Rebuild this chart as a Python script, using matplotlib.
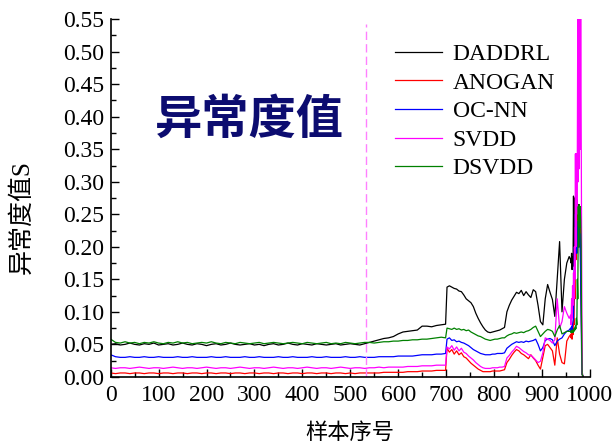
import numpy as np
import matplotlib.pyplot as plt
from matplotlib.ticker import MultipleLocator, FormatStrFormatter

plt.rcParams['font.family'] = ['Liberation Serif', 'Noto Sans CJK SC']
plt.rcParams['axes.unicode_minus'] = False

# 样本序号：平稳段每10个取一点，异常段逐渐加密
idx = np.r_[0:700:10, 699, 702:960:5, 960:987:1]

daddrl = [
    0.050, 0.051, 0.049, 0.050, 0.052, 0.050, 0.049, 0.051, 0.050, 0.052,
    0.049, 0.050, 0.051, 0.049, 0.050, 0.052, 0.050, 0.049, 0.051, 0.050,
    0.048, 0.050, 0.051, 0.049, 0.050, 0.052, 0.050, 0.049, 0.050, 0.051,
    0.049, 0.050, 0.048, 0.050, 0.051, 0.049, 0.050, 0.052, 0.050, 0.049,
    0.051, 0.050, 0.049, 0.051, 0.050, 0.049, 0.050, 0.051, 0.049, 0.050,
    0.051, 0.050, 0.049, 0.051, 0.053, 0.055, 0.057, 0.059, 0.060, 0.062,
    0.066, 0.069, 0.070, 0.071, 0.072, 0.078, 0.078, 0.077, 0.079, 0.080,
    0.081,
    0.138, 0.140, 0.138, 0.136, 0.135, 0.132, 0.131, 0.126, 0.120, 0.117,
    0.114, 0.108, 0.098, 0.090, 0.083, 0.077, 0.072, 0.069, 0.068, 0.069,
    0.070, 0.071, 0.072, 0.074, 0.076, 0.100, 0.110, 0.118, 0.124, 0.130,
    0.128, 0.133, 0.125, 0.131, 0.126, 0.122, 0.134, 0.131, 0.110, 0.085,
    0.080, 0.120, 0.142, 0.130, 0.119, 0.093, 0.150, 0.208, 0.100, 0.150,
    0.175, 0.185,
    0.180, 0.175, 0.190, 0.165, 0.185, 0.170, 0.278, 0.180, 0.275, 0.200,
    0.250, 0.190, 0.260, 0.220, 0.272, 0.230, 0.265, 0.220, 0.250, 0.200,
    0.230, 0.150, 0.120, 0.060, 0.010, 0.002, 0.001,
]

anogan = [
    0.006, 0.005, 0.006, 0.006, 0.005, 0.006, 0.006, 0.005, 0.006, 0.006,
    0.005, 0.006, 0.006, 0.005, 0.006, 0.006, 0.005, 0.006, 0.006, 0.005,
    0.006, 0.006, 0.005, 0.006, 0.006, 0.005, 0.006, 0.006, 0.005, 0.006,
    0.006, 0.005, 0.006, 0.006, 0.005, 0.006, 0.006, 0.005, 0.006, 0.006,
    0.005, 0.006, 0.006, 0.005, 0.006, 0.006, 0.005, 0.006, 0.006, 0.005,
    0.006, 0.005, 0.006, 0.006, 0.006, 0.006, 0.006, 0.007, 0.007, 0.007,
    0.007, 0.007, 0.008, 0.008, 0.008, 0.009, 0.009, 0.009, 0.010, 0.010,
    0.010,
    0.044, 0.038, 0.042, 0.035, 0.040, 0.034, 0.037, 0.031, 0.029, 0.025,
    0.021, 0.018, 0.015, 0.012, 0.010, 0.008, 0.008, 0.008, 0.008, 0.009,
    0.009, 0.009, 0.009, 0.010, 0.011, 0.022, 0.027, 0.033, 0.038, 0.042,
    0.040, 0.036, 0.034, 0.031, 0.028, 0.034, 0.029, 0.025, 0.018, 0.012,
    0.030, 0.048, 0.050, 0.045, 0.040, 0.018, 0.060, 0.035, 0.022, 0.020,
    0.055, 0.062,
    0.065, 0.060, 0.070, 0.058, 0.075, 0.065, 0.090, 0.080, 0.150, 0.120,
    0.230, 0.180, 0.250, 0.200, 0.240, 0.210, 0.260, 0.220, 0.250, 0.210,
    0.230, 0.180, 0.150, 0.050, 0.004, 0.002, 0.001,
]

ocnn = [
    0.034, 0.031, 0.030, 0.030, 0.031, 0.030, 0.030, 0.031, 0.030, 0.030,
    0.031, 0.030, 0.030, 0.030, 0.031, 0.030, 0.030, 0.031, 0.030, 0.030,
    0.030, 0.031, 0.030, 0.030, 0.031, 0.030, 0.030, 0.030, 0.031, 0.030,
    0.030, 0.031, 0.030, 0.030, 0.030, 0.031, 0.030, 0.030, 0.031, 0.030,
    0.030, 0.030, 0.031, 0.030, 0.030, 0.031, 0.030, 0.030, 0.030, 0.031,
    0.030, 0.030, 0.031, 0.030, 0.030, 0.030, 0.031, 0.031, 0.031, 0.031,
    0.032, 0.032, 0.032, 0.032, 0.033, 0.034, 0.034, 0.034, 0.035, 0.035,
    0.036,
    0.058, 0.060, 0.056, 0.057, 0.054, 0.055, 0.053, 0.052, 0.050, 0.048,
    0.045, 0.042, 0.040, 0.038, 0.036, 0.035, 0.034, 0.034, 0.034, 0.035,
    0.035, 0.036, 0.036, 0.036, 0.037, 0.044, 0.047, 0.050, 0.052, 0.054,
    0.053, 0.054, 0.053, 0.055, 0.054, 0.055, 0.056, 0.058, 0.050, 0.040,
    0.045, 0.056, 0.058, 0.059, 0.057, 0.048, 0.055, 0.058, 0.060, 0.066,
    0.070, 0.072,
    0.075, 0.070, 0.078, 0.072, 0.080, 0.085, 0.090, 0.150, 0.200, 0.180,
    0.250, 0.210, 0.240, 0.190, 0.230, 0.200, 0.240, 0.210, 0.230, 0.200,
    0.220, 0.150, 0.100, 0.030, 0.004, 0.002, 0.001,
]

svdd = [
    0.014, 0.013, 0.014, 0.014, 0.013, 0.014, 0.015, 0.014, 0.013, 0.014,
    0.014, 0.013, 0.014, 0.015, 0.014, 0.013, 0.014, 0.014, 0.013, 0.014,
    0.015, 0.014, 0.013, 0.014, 0.014, 0.013, 0.014, 0.015, 0.014, 0.013,
    0.014, 0.014, 0.013, 0.014, 0.015, 0.014, 0.013, 0.014, 0.014, 0.013,
    0.014, 0.015, 0.014, 0.013, 0.014, 0.014, 0.013, 0.014, 0.015, 0.014,
    0.013, 0.014, 0.014, 0.013, 0.014, 0.014, 0.015, 0.014, 0.015, 0.015,
    0.015, 0.015, 0.016, 0.016, 0.016, 0.017, 0.017, 0.017, 0.018, 0.018,
    0.018,
    0.046, 0.043, 0.048, 0.041, 0.046, 0.040, 0.044, 0.038, 0.036, 0.032,
    0.029, 0.026, 0.022, 0.019, 0.016, 0.014, 0.013, 0.013, 0.013, 0.014,
    0.014, 0.014, 0.015, 0.015, 0.016, 0.029, 0.033, 0.038, 0.042, 0.047,
    0.045, 0.042, 0.039, 0.037, 0.034, 0.033, 0.030, 0.026, 0.022, 0.024,
    0.037, 0.060, 0.058, 0.056, 0.052, 0.057, 0.120, 0.075, 0.085, 0.108,
    0.098, 0.090,
    0.095, 0.080, 0.120, 0.090, 0.140, 0.110, 0.160, 0.120, 0.200, 0.150,
    0.343, 0.200, 0.343, 0.250, 0.340, 0.580, 0.300, 0.580, 0.320, 0.580,
    0.350, 0.580, 0.383, 0.200, 0.010, 0.002, 0.001,
]

dsvdd = [
    0.058, 0.053, 0.052, 0.054, 0.052, 0.053, 0.051, 0.053, 0.052, 0.054,
    0.052, 0.051, 0.053, 0.052, 0.054, 0.052, 0.053, 0.051, 0.052, 0.053,
    0.052, 0.054, 0.052, 0.051, 0.053, 0.052, 0.051, 0.053, 0.052, 0.051,
    0.052, 0.053, 0.051, 0.052, 0.053, 0.052, 0.051, 0.052, 0.053, 0.052,
    0.051, 0.053, 0.052, 0.051, 0.052, 0.053, 0.051, 0.052, 0.051, 0.053,
    0.052, 0.051, 0.052, 0.053, 0.053, 0.052, 0.053, 0.054, 0.054, 0.055,
    0.055, 0.056, 0.056, 0.057, 0.057, 0.058, 0.058, 0.059, 0.060, 0.061,
    0.060,
    0.075, 0.074, 0.073, 0.075, 0.073, 0.074, 0.072, 0.073, 0.071, 0.072,
    0.069, 0.067, 0.065, 0.063, 0.062, 0.060, 0.058, 0.057, 0.056, 0.057,
    0.058, 0.058, 0.059, 0.060, 0.060, 0.063, 0.065, 0.066, 0.068, 0.067,
    0.068, 0.069, 0.068, 0.070, 0.071, 0.073, 0.076, 0.078, 0.070, 0.062,
    0.066, 0.070, 0.073, 0.072, 0.070, 0.062, 0.072, 0.079, 0.066, 0.068,
    0.070, 0.070,
    0.070, 0.068, 0.072, 0.069, 0.071, 0.068, 0.073, 0.070, 0.075, 0.072,
    0.078, 0.074, 0.090, 0.080, 0.150, 0.120, 0.262, 0.200, 0.265, 0.230,
    0.262, 0.240, 0.200, 0.050, 0.004, 0.002, 0.001,
]

names = ['DADDRL', 'ANOGAN', 'OC-NN', 'SVDD', 'DSVDD']
series = [daddrl, anogan, ocnn, svdd, dsvdd]
colors = ['black', 'red', 'blue', 'magenta', 'green']

split_at = 533  # 训练/测试分界

fig = plt.figure(figsize=(6.15, 4.46), dpi=100)
ax = fig.add_axes([0.180, 0.155, 0.779, 0.802])

for name, ys, c in zip(names, series, colors):
    ax.plot(idx, ys, color=c, lw=0.9, label=name)

ax.plot([split_at, split_at], [0, 0.542], color='#ff80ff', lw=1.0,
        dashes=(6, 3))

ax.text(93, 0.396, '异常度值', fontsize=34, fontweight='bold',
        color='#0c0c70', family=['Noto Sans CJK SC'],
        ha='left', va='center')

ax.set_xlim(0, 1000)
ax.set_ylim(0, 0.55)
ax.xaxis.set_major_locator(MultipleLocator(100))
ax.xaxis.set_minor_locator(MultipleLocator(50))
ax.yaxis.set_major_locator(MultipleLocator(0.05))
ax.yaxis.set_minor_locator(MultipleLocator(0.025))
ax.yaxis.set_major_formatter(FormatStrFormatter('%.2f'))

ax.spines['top'].set_visible(False)
ax.spines['right'].set_visible(False)
for s in ['left', 'bottom']:
    ax.spines[s].set_linewidth(1.2)
ax.tick_params(which='both', direction='in', width=1.0, labelsize=17)
ax.tick_params(which='major', length=6)
ax.tick_params(which='minor', length=3.5)
ax.tick_params(axis='y', pad=5)
ax.tick_params(axis='x', pad=6)

ax.set_xlabel('样本序号', fontsize=16, labelpad=12)
ax.set_ylabel('异常度值S', fontsize=18)
ax.yaxis.set_label_coords(-0.16, 0.447)

ax.legend(loc='upper left', bbox_to_anchor=(0.593, 0.932), frameon=False,
          fontsize=17, handlelength=2.0, handletextpad=0.45,
          labelspacing=0.3, borderpad=0, borderaxespad=0)

fig.savefig('out.png', dpi=100)
